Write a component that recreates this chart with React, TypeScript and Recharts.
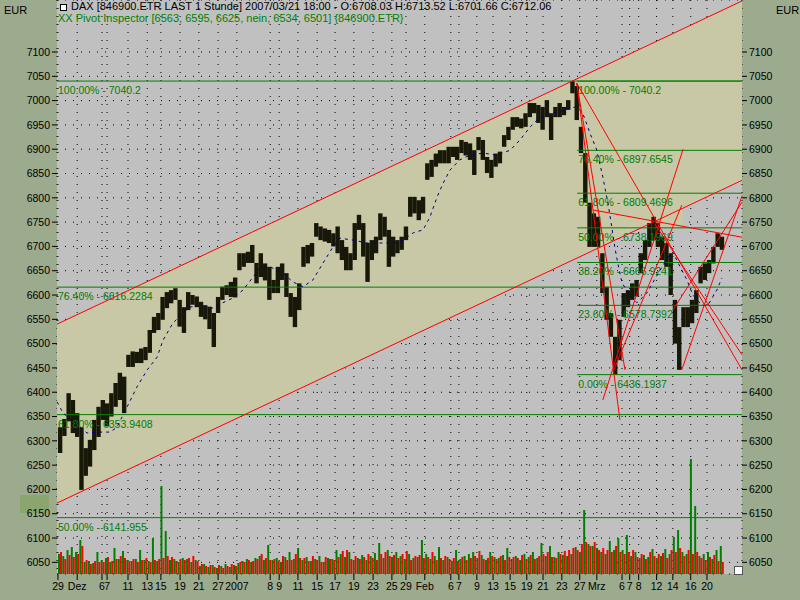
import React from 'react';
import {
  ComposedChart,
  Bar,
  Line,
  Area,
  XAxis,
  YAxis,
  CartesianGrid,
  ReferenceLine,
} from 'recharts';

// half-day sessions, 29 Nov 2006 .. 21 Mar 2007 (DAX, hourly bars read in 1/2-day slices)
const slotHigh = [
  6328, 6345, 6398, 6384, 6357, 6328, 6285, 6302, 6343, 6370,
  6384, 6377, 6398, 6419, 6440, 6432, 6477, 6484, 6483, 6490,
  6493, 6528, 6555, 6563, 6596, 6606, 6610, 6614, 6590, 6575,
  6606, 6600, 6597, 6586, 6579, 6576, 6563, 6596, 6617, 6620,
  6627, 6636, 6686, 6686, 6689, 6703, 6666, 6686, 6665, 6658,
  6631, 6658, 6665, 6645, 6604, 6596, 6624, 6699, 6703, 6707,
  6748, 6741, 6737, 6734, 6727, 6741, 6713, 6699, 6686, 6748,
  6765, 6748, 6707, 6713, 6720, 6768, 6761, 6734, 6720, 6713,
  6720, 6741, 6802, 6802, 6795, 6802, 6871, 6878, 6891, 6898,
  6898, 6905, 6905, 6905, 6919, 6915, 6912, 6898, 6925, 6919,
  6884, 6878, 6891, 6895, 6929, 6946, 6966, 6966, 6963, 6974,
  6995, 6995, 6991, 6987, 7001, 6974, 6987, 6995, 6987, 7001,
  7040, 7030, 6946, 6892, 6790, 6768, 6761, 6686, 6617, 6563,
  6514, 6549, 6604, 6610, 6624, 6631, 6686, 6713, 6748, 6761,
  6748, 6720, 6707, 6686, 6590, 6534, 6575, 6575, 6590, 6610,
  6658, 6665, 6672, 6699, 6727, 6720,
];
const slotLow = [
  6275, 6310, 6340, 6316, 6308, 6199, 6228, 6247, 6281, 6308,
  6343, 6330, 6350, 6370, 6384, 6357, 6452, 6452, 6460, 6460,
  6466, 6481, 6522, 6528, 6549, 6573, 6583, 6590, 6535, 6522,
  6569, 6580, 6575, 6555, 6550, 6530, 6493, 6563, 6590, 6600,
  6596, 6595, 6651, 6658, 6666, 6666, 6624, 6637, 6630, 6590,
  6604, 6604, 6631, 6596, 6555, 6534, 6569, 6658, 6665, 6679,
  6720, 6713, 6710, 6707, 6700, 6686, 6672, 6651, 6651, 6672,
  6734, 6679, 6627, 6672, 6686, 6713, 6720, 6658, 6679, 6686,
  6693, 6713, 6761, 6768, 6754, 6768, 6837, 6843, 6864, 6871,
  6871, 6871, 6884, 6878, 6892, 6887, 6878, 6847, 6898, 6878,
  6851, 6841, 6864, 6871, 6905, 6919, 6940, 6946, 6943, 6946,
  6966, 6974, 6954, 6940, 6966, 6919, 6966, 6966, 6970, 6981,
  7015, 6960, 6892, 6790, 6699, 6699, 6699, 6604, 6549, 6514,
  6436, 6466, 6555, 6575, 6590, 6597, 6645, 6672, 6699, 6713,
  6699, 6672, 6658, 6600, 6500, 6446, 6534, 6534, 6542, 6563,
  6624, 6631, 6645, 6665, 6699, 6693,
];

// volume per slot, split into up and down hours
const volUp = [
  20, 18, 24, 27, 22, 34, 12, 13, 11, 22,
  14, 16, 12, 26, 15, 23, 14, 13, 15, 24,
  14, 13, 36, 13, 88, 43, 14, 15, 12, 16,
  15, 12, 14, 8, 10, 7, 9, 6, 8, 10,
  7, 9, 11, 13, 15, 12, 16, 18, 14, 29,
  14, 16, 12, 17, 22, 15, 26, 14, 17, 13,
  15, 18, 12, 16, 15, 24, 20, 17, 22, 14,
  16, 19, 14, 18, 21, 31, 16, 24, 17, 22,
  18, 15, 20, 16, 17, 34, 20, 15, 18, 27,
  14, 17, 13, 24, 15, 18, 20, 22, 16, 19,
  14, 22, 17, 16, 19, 26, 15, 18, 14, 20,
  17, 22, 16, 31, 18, 28, 17, 22, 19, 18,
  20, 27, 22, 64, 30, 28, 26, 22, 20, 33,
  24, 36, 24, 39, 18, 22, 16, 19, 17, 25,
  16, 18, 25, 20, 37, 44, 22, 20, 115, 68,
  18, 20, 22, 15, 24, 28,
];
const volDown = [
  22, 15, 19, 17, 20, 28, 14, 10, 13, 12,
  12, 17, 13, 15, 18, 16, 13, 15, 12, 14,
  16, 12, 14, 15, 16, 18, 17, 13, 15, 14,
  16, 18, 13, 10, 8, 9, 7, 9, 6, 8,
  10, 8, 12, 12, 14, 13, 15, 20, 16, 14,
  15, 13, 18, 14, 14, 20, 16, 16, 13, 18,
  14, 12, 17, 15, 14, 17, 23, 24, 15, 18,
  15, 17, 20, 16, 14, 20, 22, 18, 19, 16,
  20, 23, 14, 18, 19, 16, 17, 22, 14, 16,
  18, 15, 16, 13, 17, 14, 16, 18, 23, 15,
  16, 18, 15, 18, 14, 17, 17, 16, 19, 15,
  19, 15, 18, 20, 22, 17, 16, 20, 23, 24,
  26, 24, 30, 32, 28, 32, 24, 26, 24, 22,
  28, 22, 20, 22, 24, 17, 20, 15, 22, 18,
  20, 21, 16, 24, 22, 26, 18, 24, 20, 22,
  16, 14, 17, 19, 13, 12,
];

// dashed moving average
const maSlot = [
  -0.7, 0.7, 4.7, 6.3, 8.6, 11.7, 13.3, 15.7, 18.0, 20.4,
  22.7, 24.1, 26.4, 28.8, 30.4, 32.8, 35.8, 38.1, 40.5, 42.8,
  45.2, 46.8, 49.2, 52.2, 54.5, 56.9, 59.2, 61.6, 63.9, 65.5,
  68.6, 71.9, 74.9, 78.0, 80.3, 82.7, 85.0, 86.6, 88.3, 89.7,
  91.3, 93.6, 96.0, 99.0, 102.3, 105.4, 107.7, 110.1, 111.7, 114.1,
  117.1, 119.4, 121.1, 122.4, 124.1, 125.7, 127.1, 128.3, 129.2, 129.9,
  130.6, 131.6, 133.4, 135.1, 137.4, 140.5, 142.4, 143.5, 145.2, 146.8,
  148.2, 150.3, 151.7, 153.8, 155.0,
];
const maValue = [
  6380, 6357, 6328, 6316, 6318, 6318, 6328, 6370, 6411, 6446,
  6472, 6507, 6542, 6563, 6575, 6579, 6573, 6584, 6594, 6610,
  6637, 6656, 6658, 6645, 6627, 6617, 6631, 6666, 6699, 6717,
  6713, 6707, 6707, 6707, 6713, 6728, 6734, 6760, 6802, 6830,
  6857, 6878, 6888, 6892, 6888, 6898, 6919, 6946, 6960, 6974,
  6977, 6985, 6987, 6974, 6933, 6898, 6843, 6789, 6740, 6699,
  6666, 6625, 6600, 6584, 6604, 6651, 6678, 6688, 6658, 6631,
  6600, 6579, 6579, 6610, 6635,
];

const tickSlots = [
  -0.5, 4.0, 9.8, 11.0, 15.9, 20.4, 23.6, 28.1, 32.5, 37.0,
  41.4, 49.2, 51.3, 55.7, 60.2, 64.4, 68.8, 73.3, 77.7, 81.0,
  85.4, 91.5, 93.4, 97.6, 101.4, 105.4, 109.3, 113.1, 117.5, 121.7,
  125.7, 131.6, 133.4, 135.5, 139.7, 143.5, 147.7, 151.5,
];
const tickLabels = [
  '29', 'Dez', '6', '7', '11', '13', '15', '19', '21', '27',
  '2007', '8', '9', '11', '15', '17', '19', '23', '25', '29',
  'Feb', '6', '7', '9', '13', '15', '19', '21', '23', '27',
  'Mrz', '6', '7', '8', '12', '14', '16', '20',
];
const priceTicks = [
  6050, 6100, 6150, 6200, 6250, 6300, 6350, 6400, 6450, 6500, 6550,
  6600, 6650, 6700, 6750, 6800, 6850, 6900, 6950, 7000, 7050, 7100,
];

// Fibonacci levels
const fibLeftValues = [7040.2, 6616.2284, 6353.9408, 6141.955];
const fibLeftPct = ['100.00%', '76.40%', '61.80%', '50.00%'];
const fibRightValues = [7040.2, 6897.6545, 6809.4696, 6738.1969, 6666.9241, 6578.7392, 6436.1937];
const fibRightPct = ['100.00%', '76.40%', '61.80%', '50.00%', '38.20%', '23.60%', '0.00%'];
const fibRightFrom = 121.1;

// trend channel, shaded zones and fan lines: [slot1, price1, slot2, price2]
const channelSlots = [-0.73, 159.7];
const channelLow = [6172, 6836];
const channelHigh = [6540, 7205];
const fanZone = [
  [121.1, 6740, 6898],
  [145.9, 6740, 6898],
];
const dropZone = [
  [121.0, 7036, 7036],
  [130.3, 6420, 6535],
];
const trendLines = [
  [-0.73, 6540, 159.7, 7205],
  [-0.73, 6172, 159.7, 6836],
  [121.0, 7036, 131.1, 6343],
  [121.0, 7036, 132.3, 6446],
  [121.0, 7036, 159.7, 6446],
  [127.1, 6384, 145.9, 6900],
  [129.5, 6442, 145.6, 6785],
  [124.8, 6775, 159.7, 6719],
  [143.5, 6569, 159.7, 6791],
  [145.6, 6446, 159.7, 6804],
  [139.3, 6746, 159.7, 6477],
];

const X_DOMAIN: [number, number] = [-0.73, 159.7];
const Y_DOMAIN: [number, number] = [6026, 7207];
const FONT = "'Liberation Sans', Arial, sans-serif";
const FS = 10.5;
const GREEN = '#008000';
const BEIGE = '#c8c7a6';

const rows = slotHigh.map((hi, i) => ({ s: i, range: [slotLow[i], hi] }));
const volRows = volUp.map((up, i) => ({ s: i, up, down: volDown[i] }));
const maData = maSlot.map((s, i) => ({ s, v: maValue[i] }));
const channelData = channelSlots.map((s, i) => ({ s, band: [channelLow[i], channelHigh[i]] }));
const fanData = fanZone.map(([s, lo, hi]) => ({ s, band: [lo, hi] }));
const dropData = dropZone.map(([s, lo, hi]) => ({ s, band: [lo, hi] }));

const fibLabel = (text: string) => (props: any) => {
  const vb = props.viewBox || {};
  return (
    <text x={(vb.x || 0) + 1} y={(vb.y || 0) + 13} fill={GREEN} fontSize={FS} fontFamily={FONT}>
      {text}
    </text>
  );
};

// hi-lo bar, one slot wide so neighbouring slots join like the dense hourly bars
const candleShape = (props: any) => {
  const { x, y, width, height } = props;
  if (height == null || isNaN(height)) return null;
  const cx = x + width / 2;
  return <rect x={cx - 2.2} y={y} width={4.4} height={Math.max(Math.abs(height), 1)} fill="#181808" />;
};

const axisTick = { fill: '#000', fontSize: FS, fontFamily: FONT };

export default function App() {
  return (
    <div
      style={{
        position: 'absolute',
        left: 0,
        top: 0,
        width: 800,
        height: 600,
        background: '#9caa8e',
        overflow: 'hidden',
        fontFamily: FONT,
      }}
    >
      <div style={{ position: 'absolute', left: 20, top: 495, width: 29, height: 18, background: '#8aa66e' }} />
      <ComposedChart
        width={800}
        height={600}
        data={rows}
        margin={{ top: 0, right: 0, bottom: 0, left: 0 }}
      >
        <XAxis
          type="number"
          dataKey="s"
          domain={X_DOMAIN}
          allowDataOverflow
          ticks={tickSlots}
          interval={0}
          tickFormatter={(v) => tickLabels[tickSlots.indexOf(v)] ?? ''}
          height={26}
          axisLine={false}
          tickLine={{ stroke: '#000' }}
          tickSize={6}
          tickMargin={3}
          tick={axisTick}
        />
        <YAxis
          yAxisId="price"
          orientation="left"
          width={57}
          domain={Y_DOMAIN}
          allowDataOverflow
          ticks={priceTicks}
          interval={0}
          axisLine={false}
          tickLine={{ stroke: '#000' }}
          tickSize={5}
          tickMargin={2}
          tick={axisTick}
        />
        <YAxis
          yAxisId="right"
          orientation="right"
          width={58}
          domain={Y_DOMAIN}
          allowDataOverflow
          ticks={priceTicks}
          interval={0}
          axisLine={false}
          tickLine={{ stroke: '#000' }}
          tickSize={5}
          tickMargin={2}
          tick={axisTick}
        />

        <CartesianGrid yAxisId="price" fill="#c0c0c0" horizontal={false} vertical={false} />

        <Area data={channelData} yAxisId="price" dataKey="band" type="linear" stroke="none"
          fill={BEIGE} fillOpacity={1} isAnimationActive={false} />
        <Area data={fanData} yAxisId="price" dataKey="band" type="linear" stroke="none"
          fill={BEIGE} fillOpacity={1} isAnimationActive={false} />
        <Area data={dropData} yAxisId="price" dataKey="band" type="linear" stroke="none"
          fill={BEIGE} fillOpacity={1} isAnimationActive={false} />

        <CartesianGrid yAxisId="price" fill="none" stroke="#000" strokeDasharray="1 7" />

        {fibLeftValues.map((v, i) => (
          <ReferenceLine
            key={'fl' + i}
            yAxisId="price"
            y={v}
            stroke={GREEN}
            label={fibLabel(`${fibLeftPct[i]} - ${v}`)}
          />
        ))}
        {fibRightValues.map((v, i) => (
          <ReferenceLine
            key={'fr' + i}
            yAxisId="price"
            segment={[
              { x: fibRightFrom, y: v },
              { x: X_DOMAIN[1], y: v },
            ]}
            stroke={GREEN}
            label={fibLabel(`${fibRightPct[i]} - ${v}`)}
          />
        ))}

        <Line
          data={maData}
          yAxisId="price"
          dataKey="v"
          type="linear"
          stroke="#000080"
          strokeWidth={1}
          strokeDasharray="3 4"
          dot={false}
          isAnimationActive={false}
        />

        <Bar yAxisId="price" dataKey="range" barSize={4} shape={candleShape} isAnimationActive={false} />

        {trendLines.map(([x1, y1, x2, y2], i) => (
          <ReferenceLine
            key={'t' + i}
            yAxisId="price"
            segment={[
              { x: x1, y: y1 },
              { x: x2, y: y2 },
            ]}
            stroke="#ff0000"
            strokeWidth={1}
            ifOverflow="visible"
          />
        ))}
      </ComposedChart>

      <div style={{ position: 'absolute', left: 0, top: 0, pointerEvents: 'none' }}>
        <ComposedChart
          width={800}
          height={600}
          data={volRows}
          margin={{ top: 0, right: 58, bottom: 26, left: 57 }}
          barGap={0}
        >
          <XAxis type="number" dataKey="s" domain={X_DOMAIN} allowDataOverflow hide />
          <YAxis domain={[0, 574]} allowDataOverflow hide />
          <Bar dataKey="up" fill={GREEN} barSize={2} isAnimationActive={false} />
          <Bar dataKey="down" fill="#ff0000" barSize={2} isAnimationActive={false} />
        </ComposedChart>
      </div>

      <div style={{ position: 'absolute', left: 4, top: 4, fontSize: 11 }}>EUR</div>
      <div style={{ position: 'absolute', left: 776, top: 4, fontSize: 11 }}>EUR</div>
      <div
        style={{
          position: 'absolute',
          left: 60,
          top: 4,
          width: 5,
          height: 5,
          border: '1px solid #000',
          background: '#fff',
        }}
      />
      <div style={{ position: 'absolute', left: 71, top: 0, fontSize: 11, whiteSpace: 'nowrap', color: '#000' }}>
        DAX [846900.ETR LAST 1 Stunde] 2007/03/21 18:00 - O:6708.03 H:6713.52 L:6701.66 C:6712.06
      </div>
      <div style={{ position: 'absolute', left: 58, top: 12, fontSize: 11, whiteSpace: 'nowrap', color: GREEN }}>
        XX Pivot Inspector [6563, 6595, 6625, nein, 6534, 6501] {'{846900.ETR}'}
      </div>
      <div
        style={{
          position: 'absolute',
          left: 734,
          top: 566,
          width: 7,
          height: 7,
          border: '1px solid #555',
          background: '#fff',
        }}
      />
    </div>
  );
}
